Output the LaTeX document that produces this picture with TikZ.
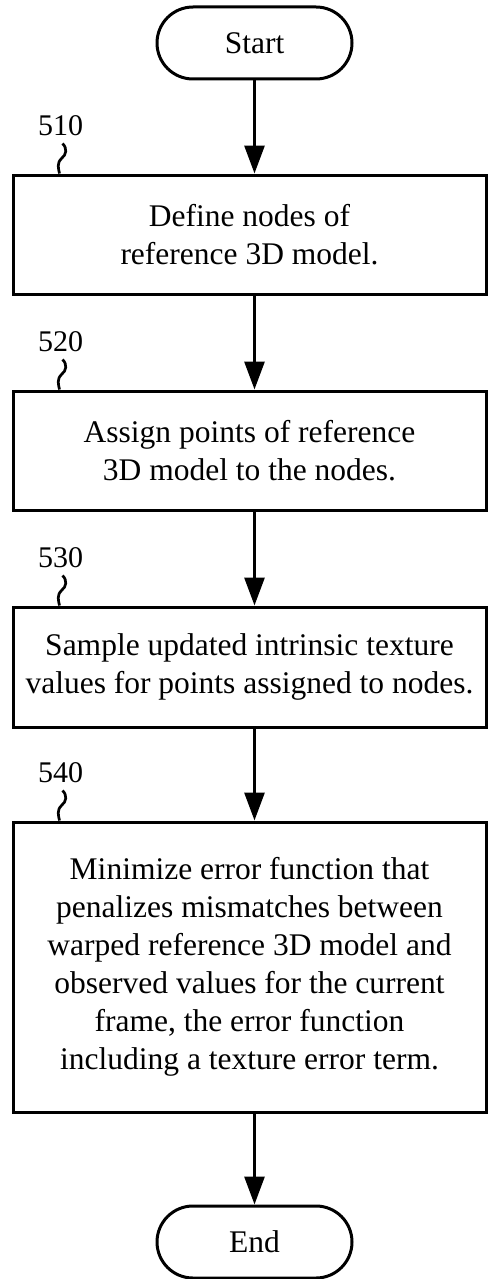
\documentclass[tikz,border=0pt]{standalone}
\usepackage{fontspec}
\setmainfont{Liberation Serif}
\usetikzlibrary{arrows.meta,calc}
\begin{document}
\begin{tikzpicture}[x=1pt,y=1pt,
 every node/.style={font=\fontsize{31.5}{38}\selectfont},
 proc/.style={draw,line width=3pt,minimum width=473pt,align=center,inner sep=0pt},
 term/.style={draw,line width=3pt,minimum width=195pt,minimum height=72pt,rounded corners=36pt,inner sep=0pt},
 lbl/.style={font=\fontsize{30}{36}\selectfont,inner sep=0pt},
 flow/.style={line width=3pt,-{Triangle[length=28pt,width=20pt]}},
 sq/.style={line width=2.7pt}]
\useasboundingbox (0,0) rectangle (488,-1279);
\node[term] (start) at (254.5,-43) {Start};
\node[proc,minimum height=119pt] (b1) at (249.5,-234.5) {Define nodes of\\reference 3D model.};
\node[proc,minimum height=119pt] (b2) at (249.5,-450.5) {Assign points of reference\\3D model to the nodes.};
\node[proc,minimum height=120pt] (b3) at (249.5,-667) {Sample updated intrinsic texture\\values for points assigned to nodes.};
\node[proc,minimum height=290pt] (b4) at (249.5,-967) {Minimize error function that\\penalizes mismatches between\\warped reference 3D model and\\observed values for the current\\frame, the error function\\including a texture error term.};
\node[term] (end) at (254.5,-1242) {End};
\foreach \b/\t in {b1/510,b2/520,b3/530,b4/540}{
  \node[lbl] (l\t) at ($(\b.north west)+(49,48)$) {\t};
  \draw[sq] ($(\b.north west)+(51,30)$)
     .. controls ($(\b.north west)+(56,25)$) and ($(\b.north west)+(55,19)$) .. ($(\b.north west)+(50,15)$)
     .. controls ($(\b.north west)+(45,10)$) and ($(\b.north west)+(47,5)$) .. ($(\b.north west)+(48,0)$);
}
\draw[flow] (start.south) -- (start.south |- b1.north);
\draw[flow] (start.south |- b1.south) -- (start.south |- b2.north);
\draw[flow] (start.south |- b2.south) -- (start.south |- b3.north);
\draw[flow] (start.south |- b3.south) -- (start.south |- b4.north);
\draw[flow] (start.south |- b4.south) -- (end.north);
\end{tikzpicture}
\end{document}
